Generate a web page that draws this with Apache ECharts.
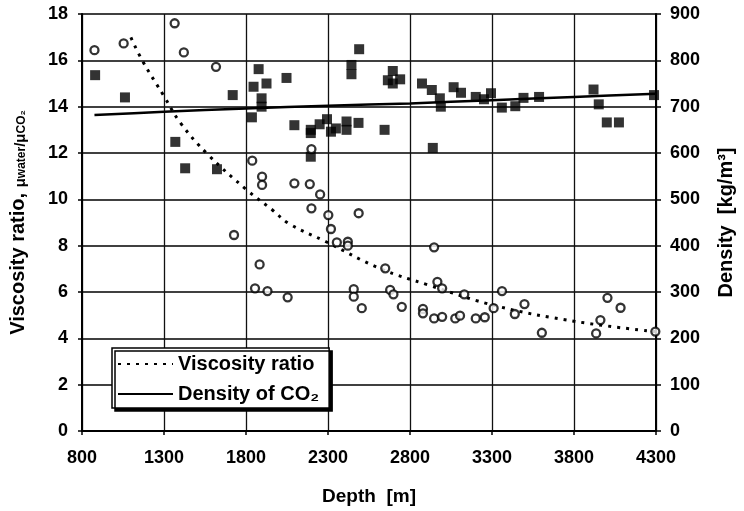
<!DOCTYPE html>
<html><head><meta charset="utf-8">
<script src="https://cdn.jsdelivr.net/npm/echarts@6/dist/echarts.min.js"></script>
<style>html,body{margin:0;padding:0;background:#fff}#c{width:744px;height:511px}</style>
</head><body><div id="c"></div>
<script>
// Measured viscosity ratio (open circles), left axis
const viscDepth = [876,1054,1365,1421,1617,1727,1838,1898,1898,1883,1855,1931,2054,2095,2189,2199,2252,2199,2302,2487,2318,2354,2421,2421,2947,2457,2457,2506,2649,2679,2699,2750,2879,2879,2947,2967,2996,2996,3076,3105,3131,3201,3256,3310,3361,3439,3498,3604,3935,3961,4004,4084,4296];
const viscRatio = [16.44,16.73,17.6,16.34,15.72,8.46,11.67,10.98,10.62,7.19,6.16,6.04,5.77,10.69,10.66,12.17,10.21,9.61,9.32,9.4,8.72,8.14,8.17,8.0,7.93,6.12,5.8,5.3,7.02,6.09,5.9,5.36,5.27,5.08,4.86,6.44,6.16,4.93,4.86,4.98,5.9,4.86,4.91,5.3,6.04,5.05,5.48,4.24,4.21,4.79,5.75,5.32,4.29];
// Measured density (filled squares), right axis
const densDepth = [880,1062,1369,1429,1623,1719,1836,1846,1877,1925,1895,1895,2047,2095,2195,2195,2195,2249,2294,2318,2348,2413,2413,2486,2645,2443,2443,2490,2695,2665,2740,2695,2873,2933,2982,2988,2939,3066,3111,3201,3251,3294,3360,3442,3492,3587,3919,3951,4000,4074,4288];
const densValue = [768,720,624,567,565,725,677,743,781,750,718,700,762,660,650,643,592,662,673,646,653,668,650,665,650,790,770,824,777,757,759,750,750,736,718,700,611,742,730,721,716,729,698,701,719,721,737,705,666,666,725];
// Viscosity ratio trend (dotted)
const fitDepth = [1098,1167,1302,1400,1564,1806,1961,2060,2288,2615,2913,3330,3816,4294];
const fitVisc = [16.99,16.0,14.43,13.3,11.96,10.4,9.54,8.96,8.17,7.02,6.3,5.39,4.72,4.29];
// Density of CO2 (solid)
const co2Depth = [876,1300,1800,2300,2800,3300,3800,4300];
const co2Dens = [682,689,696,702,707,714,721,728];
// Axes
const depthRange = [800,4300,500];
const viscRange = [0,18,2];
const densRange = [0,900,100];

const F = 'Liberation Sans, Arial, sans-serif';
const zip = (a,b) => a.map((v,i)=>[v,b[i]]);
const chart = echarts.init(document.getElementById('c'), null, {renderer:'canvas'});
const lbl = {color:'#000', fontFamily:F, fontWeight:'bold', fontSize:18};
chart.setOption({
  animation:false,
  backgroundColor:'#fff',
  grid:{left:75,right:81,top:14,bottom:80},
  legend:{
    data:['Viscosity ratio','Density of CO\u2082'],
    orient:'vertical', left:112, top:348,
    padding:[5,10,3,5], itemGap:8, itemWidth:55, itemHeight:14,
    backgroundColor:'#fff', borderColor:'#000', borderWidth:1.5, borderRadius:0,
    shadowColor:'#000', shadowBlur:0, shadowOffsetX:3, shadowOffsetY:3,
    itemStyle:{color:'rgba(0,0,0,0)', borderWidth:0, opacity:0},
    textStyle:{color:'#000', fontFamily:F, fontWeight:'bold', fontSize:20, lineHeight:22},
    selectedMode:false
  },
  xAxis:{
    type:'value', min:depthRange[0], max:depthRange[1], interval:depthRange[2],
    name:'Depth  [m]', nameLocation:'middle', nameGap:56,
    nameTextStyle:{color:'#000', fontFamily:F, fontWeight:'bold', fontSize:19},
    axisLine:{show:true, onZero:false, lineStyle:{color:'#000', width:2}},
    axisTick:{show:true, length:4, lineStyle:{color:'#000', width:1.5}},
    axisLabel:Object.assign({margin:18, formatter:v => String(v)}, lbl),
    splitLine:{show:true, lineStyle:{color:'#111', width:1.3}}
  },
  yAxis:[{
    type:'value', min:viscRange[0], max:viscRange[1], interval:viscRange[2], position:'left',
    name:'{b|Viscosity ratio, }{s|\u03bc}{ss|water}{s|/\u03bc}{ss|CO\u2082}',
    nameLocation:'middle', nameRotate:90, nameGap:54,
    nameTextStyle:{color:'#000', fontFamily:F, fontWeight:'bold',
      rich:{b:{fontSize:20, fontFamily:F, fontWeight:'bold', color:'#000', verticalAlign:'bottom'},
            s:{fontSize:15, fontFamily:F, color:'#000', verticalAlign:'bottom'},
            ss:{fontSize:12, fontFamily:F, fontWeight:'bold', color:'#000', verticalAlign:'bottom'}}},
    axisLine:{show:true, lineStyle:{color:'#000', width:2}},
    axisTick:{show:true, length:4, lineStyle:{color:'#000', width:1.5}},
    axisLabel:Object.assign({margin:14}, lbl),
    splitLine:{show:true, lineStyle:{color:'#000', width:1.5}}
  },{
    type:'value', min:densRange[0], max:densRange[1], interval:densRange[2], position:'right',
    name:'Density  [kg/m\u00b3]', nameLocation:'middle', nameRotate:90, nameGap:60,
    nameTextStyle:{color:'#000', fontFamily:F, fontWeight:'bold', fontSize:20},
    axisLine:{show:true, lineStyle:{color:'#000', width:2}},
    axisTick:{show:true, length:5, lineStyle:{color:'#000', width:1.5}},
    axisLabel:Object.assign({margin:14}, lbl),
    splitLine:{show:false}
  }],
  series:[
    {name:'Density data', type:'scatter', yAxisIndex:1, data:zip(densDepth,densValue),
     symbol:'rect', symbolSize:10, itemStyle:{color:'#000'}, z:3},
    {name:'Viscosity data', type:'scatter', yAxisIndex:0, data:zip(viscDepth,viscRatio),
     symbol:'circle', symbolSize:8, itemStyle:{color:'#fff', borderColor:'#000', borderWidth:2.3}, z:4},
    {name:'Viscosity ratio', type:'line', yAxisIndex:0, data:zip(fitDepth,fitVisc), smooth:0.4,
     symbol:'none', showSymbol:false, lineStyle:{color:'#000', width:3, type:[3,6]}, itemStyle:{color:'#000'}, z:2},
    {name:'Density of CO\u2082', type:'line', yAxisIndex:1, data:zip(co2Depth,co2Dens), smooth:0.3,
     symbol:'none', showSymbol:false, lineStyle:{color:'#000', width:2.5}, itemStyle:{color:'#000'}, z:2}
  ]
});
</script></body></html>
